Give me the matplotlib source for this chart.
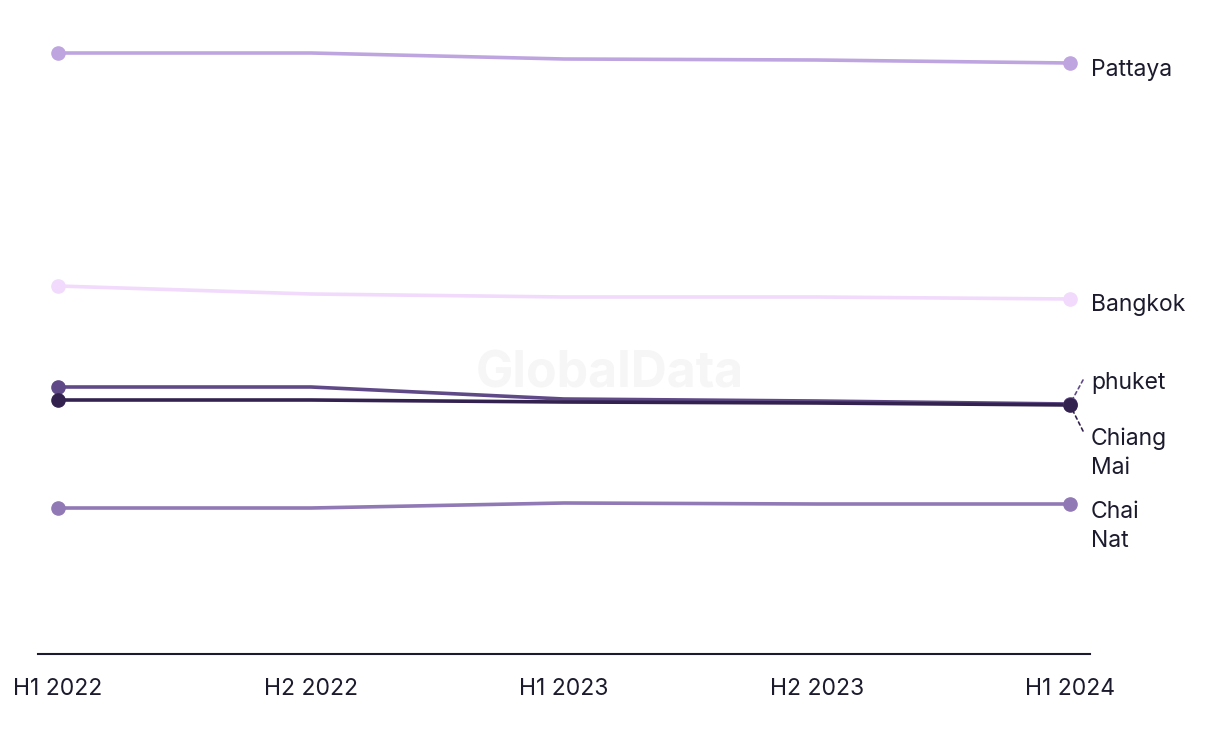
import matplotlib
matplotlib.use("Agg")
import matplotlib.pyplot as plt

periods = ["H1 2022", "H2 2022", "H1 2023", "H2 2023", "H1 2024"]
cities = ["Pattaya", "Bangkok", "phuket", "Chiang Mai", "Chai Nat"]
pattaya = [120.2, 120.2, 119.0, 118.8, 118.2]
bangkok = [73.6, 72.0, 71.4, 71.4, 71.0]
phuket = [53.4, 53.4, 51.0, 50.6, 50.0]
chiang_mai = [50.8, 50.8, 50.4, 50.2, 49.8]
chai_nat = [29.2, 29.2, 30.2, 30.0, 30.0]
labels = ["Pattaya", "Bangkok", "phuket", "Chiang\nMai", "Chai\nNat"]

series = [pattaya, bangkok, phuket, chiang_mai, chai_nat]
colors = ["#bfa5e0", "#f1dafc", "#5f4a87", "#33224f", "#9179b6"]
label_offsets = [-7, -6, 21, -48.5, -22.5]  # pixels
leaders = [None, None, (13, 24), (13, -26), None]

plt.rcParams['font.family'] = ['Inter', 'DejaVu Sans']
text_color = "#1c1b2e"

fig = plt.figure(figsize=(12.2, 7.44), dpi=100)
ax = fig.add_axes([38/1220, 90/744, 1052/1220, 634/744])
x = list(range(len(periods)))

for vals, col in zip(series, colors):
    ax.plot(x, vals, color=col, lw=2.6, solid_capstyle='round', zorder=3)
    ax.plot([x[0], x[-1]], [vals[0], vals[-1]], 'o', color=col, ms=9.5, zorder=4)

for vals, lab, off, col, ld in zip(series, labels, label_offsets, colors, leaders):
    ax.annotate(lab, xy=(x[-1], vals[-1]), xytext=(21, off), textcoords='offset pixels',
                ha='left', va='center', fontsize=16.5, color=text_color, linespacing=1.4)
    if ld is not None:
        ax.annotate('', xy=(x[-1], vals[-1]), xytext=ld, textcoords='offset pixels',
                    arrowprops=dict(arrowstyle='-', linestyle=(0, (2, 2)), color=col, lw=1.2,
                                    shrinkA=0, shrinkB=4))

fig.text(0.5, 1 - 374 / 744, "GlobalData", ha='center', va='center',
         fontsize=36, fontweight='bold', color="#f6f6f6", zorder=1)

ax.set_xlim(-20/253, 4 + 20/253)
ax.set_ylim(0, 126.8)
ax.set_xticks(x)
ax.set_xticklabels(periods, fontsize=16.5, color=text_color)
ax.tick_params(axis='x', length=0, pad=17)
ax.set_yticks([])
ax.patch.set_alpha(0)
for s in ['top', 'right', 'left']:
    ax.spines[s].set_visible(False)
ax.spines['bottom'].set_color(text_color)
ax.spines['bottom'].set_linewidth(1.5)

fig.savefig("out.png", dpi=100)
